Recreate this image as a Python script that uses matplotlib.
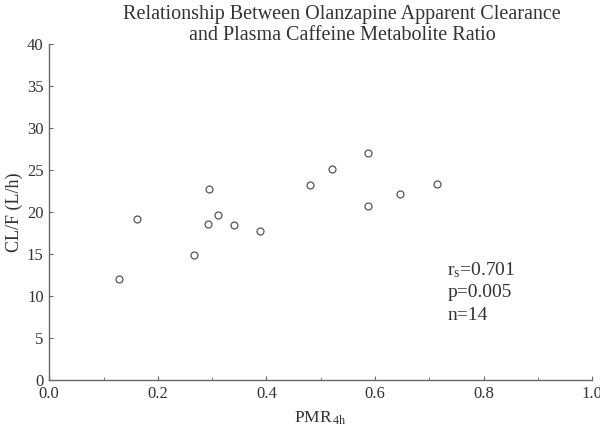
import numpy as np
import matplotlib
matplotlib.use('Agg')
import matplotlib.pyplot as plt
from matplotlib.ticker import MultipleLocator

plt.rcParams['font.family'] = ['Liberation Serif', 'DejaVu Serif']
plt.rcParams['mathtext.fontset'] = 'custom'
plt.rcParams['mathtext.rm'] = 'Liberation Serif'
plt.rcParams['mathtext.it'] = 'Liberation Serif'

# data
pmr = [0.129, 0.161, 0.266, 0.292, 0.295, 0.310, 0.340, 0.389,
       0.481, 0.520, 0.587, 0.587, 0.646, 0.715]
clf = [12.0, 19.2, 14.9, 18.6, 22.7, 19.6, 18.45, 17.7,
       23.2, 25.1, 27.0, 20.75, 22.2, 23.3]
stats_lines = [r'r$_{\rm s}$=0.701', 'p=0.005', 'n=14']

TXT = '#333333'
AX = '#666666'

fig = plt.figure(figsize=(6, 4.32), dpi=100)
ax = fig.add_axes([0.082, 0.120, 0.905, 0.778])

ax.plot(pmr, clf, 'o', markersize=5, markerfacecolor='none',
        markeredgecolor='#555555', markeredgewidth=0.9, linestyle='none')

ax.set_xlim(0, 1.0)
ax.set_ylim(0, 40)
ax.xaxis.set_major_locator(MultipleLocator(0.2))
ax.xaxis.set_minor_locator(MultipleLocator(0.1))
ax.yaxis.set_major_locator(MultipleLocator(5))
ax.xaxis.set_major_formatter(plt.FuncFormatter(lambda v, p: f'{v:.1f}'))

for s in ['top', 'right']:
    ax.spines[s].set_visible(False)
for s in ['left', 'bottom']:
    ax.spines[s].set_color(AX)
    ax.spines[s].set_linewidth(1.0)
ax.tick_params(axis='both', which='major', direction='in', length=3,
               color=AX, labelcolor=TXT, labelsize=12, pad=4)
ax.tick_params(axis='x', which='minor', direction='in', length=2, color=AX)

ax.set_xlabel(r'PMR$_{\,\rm 4h}$', fontsize=12.5, color=TXT, labelpad=6)
ax.set_ylabel('CL/F (L/h)', fontsize=13, color=TXT, labelpad=3)

fig.text(0.57, 0.988, 'Relationship Between Olanzapine Apparent Clearance\n'
         'and Plasma Caffeine Metabolite Ratio', ha='center', va='top',
         fontsize=14.5, color=TXT, linespacing=1.1)

for i, line in enumerate(stats_lines):
    ax.text(0.733, 13.1 - i * 2.7, line, fontsize=14, color=TXT,
            va='center', ha='left')

fig.savefig('out.png', dpi=100)
